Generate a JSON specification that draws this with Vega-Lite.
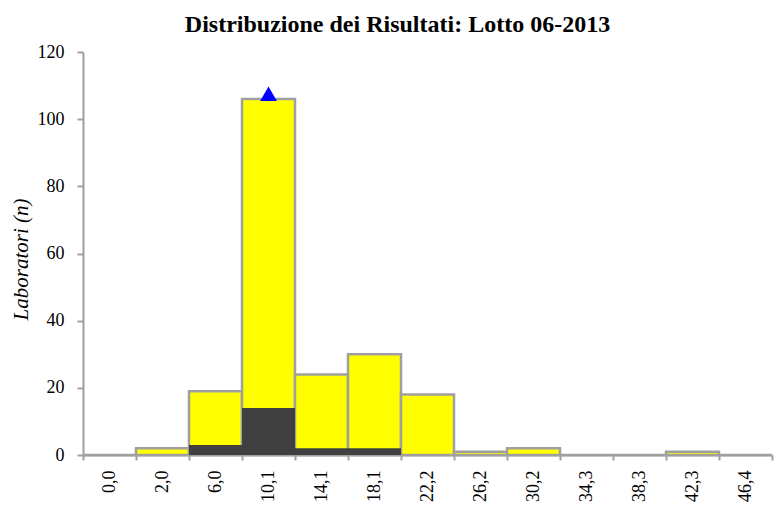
{
  "$schema": "https://vega.github.io/schema/vega-lite/v6.json",
  "width": 689,
  "height": 403,
  "autosize": {"type": "none"},
  "padding": {"left": 83, "top": 52, "right": 4, "bottom": 62},
  "background": "white",
  "title": {
    "text": "Distribuzione dei Risultati: Lotto 06-2013",
    "font": "Liberation Serif",
    "fontSize": 24,
    "fontWeight": "bold",
    "color": "black",
    "anchor": "middle",
    "dx": -30,
    "offset": 6
  },
  "datasets": {
    "bins": [
      {"classe": "0,0", "totale": 0, "scuro": 0},
      {"classe": "2,0", "totale": 2, "scuro": 0},
      {"classe": "6,0", "totale": 19, "scuro": 3},
      {"classe": "10,1", "totale": 106, "scuro": 14},
      {"classe": "14,1", "totale": 24, "scuro": 2},
      {"classe": "18,1", "totale": 30, "scuro": 2},
      {"classe": "22,2", "totale": 18, "scuro": 0},
      {"classe": "26,2", "totale": 1, "scuro": 0},
      {"classe": "30,2", "totale": 2, "scuro": 0},
      {"classe": "34,3", "totale": 0, "scuro": 0},
      {"classe": "38,3", "totale": 0, "scuro": 0},
      {"classe": "42,3", "totale": 1, "scuro": 0},
      {"classe": "46,4", "totale": 0, "scuro": 0}
    ],
    "marker": [{"classe": "10,1", "valore": 107.6}]
  },
  "encoding": {
    "x": {
      "field": "classe",
      "type": "nominal",
      "sort": null,
      "title": null,
      "scale": {"type": "band", "paddingInner": 0, "paddingOuter": 0},
      "axis": {
        "labelAngle": -90,
        "tickBand": "extent",
        "domainColor": "#A0A0A0",
        "domainWidth": 2,
        "tickColor": "#A0A0A0",
        "tickWidth": 2,
        "tickSize": 5,
        "labelFont": "Liberation Serif",
        "labelFontSize": 18,
        "labelColor": "black",
        "labelPadding": 10
      }
    }
  },
  "layer": [
    {
      "data": {"name": "bins"},
      "mark": {"type": "bar", "fill": "#FFFF00", "stroke": "#A0A0A0", "strokeWidth": 2.5},
      "encoding": {
        "y": {
          "field": "totale",
          "type": "quantitative",
          "title": "Laboratori (n)",
          "scale": {"domain": [0, 120], "nice": false},
          "axis": {
            "values": [0, 20, 40, 60, 80, 100, 120],
            "grid": false,
            "domainColor": "#A0A0A0",
            "domainWidth": 2,
            "tickColor": "#A0A0A0",
            "tickWidth": 2,
            "tickSize": 6,
            "labelFont": "Liberation Serif",
            "labelFontSize": 18,
            "labelColor": "black",
            "labelPadding": 13,
            "titleFont": "Liberation Serif",
            "titleFontSize": 21,
            "titleFontStyle": "italic",
            "titleFontWeight": "normal",
            "titleColor": "black",
            "titlePadding": 6,
            "titleY": 207
          }
        }
      }
    },
    {
      "data": {"name": "bins"},
      "mark": {"type": "bar", "fill": "#404040", "strokeWidth": 0},
      "encoding": {
        "y": {"field": "scuro", "type": "quantitative", "title": "Laboratori (n)"}
      }
    },
    {
      "data": {"name": "marker"},
      "mark": {"type": "point", "shape": "triangle-up", "filled": true, "fill": "#0000FF", "strokeWidth": 0, "size": 280, "opacity": 1},
      "encoding": {
        "y": {"field": "valore", "type": "quantitative", "title": "Laboratori (n)"}
      }
    }
  ],
  "config": {"view": {"stroke": null}}
}
